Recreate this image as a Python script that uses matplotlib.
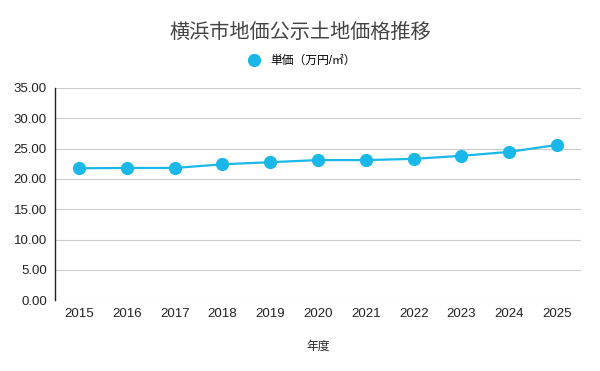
import matplotlib.pyplot as plt

plt.rcParams['font.family'] = ['Liberation Sans', 'Noto Sans CJK JP', 'DejaVu Sans']

years = ['2015', '2016', '2017', '2018', '2019', '2020', '2021', '2022', '2023', '2024', '2025']
unit_price = [21.75, 21.8, 21.8, 22.4, 22.75, 23.1, 23.1, 23.3, 23.8, 24.45, 25.6]
y_ticks = [0, 5, 10, 15, 20, 25, 30, 35]

color = '#1ab8e8'

fig = plt.figure(figsize=(6, 3.71), dpi=100)
ax = fig.add_axes([0.092, 0.191, 0.876, 0.572])

x = list(range(len(years)))
ax.plot(x, unit_price, '-o', color=color, lw=1.6, ms=8.5, label='単価（万円/㎡）')

ax.set_xlim(-0.5, len(years) - 0.5)
ax.set_ylim(0, 35)
ax.set_yticks(y_ticks)
ax.set_yticklabels([f'{v:.2f}' for v in y_ticks])
ax.set_xticks(x)
ax.set_xticklabels(years)
ax.tick_params(length=0, labelsize=9.5, colors='#222222', pad=6)
ax.yaxis.grid(True, color='#cccccc', lw=0.8)
ax.set_axisbelow(True)
for s in ['top', 'right', 'bottom']:
    ax.spines[s].set_visible(False)
ax.spines['left'].set_color('#222222')
ax.spines['left'].set_linewidth(1)

ax.set_xlabel('年度', fontsize=8.5, color='#222222', labelpad=15)
fig.text(0.5, 0.912, '横浜市地価公示土地価格推移', ha='center', va='center',
         fontsize=14.5, color='#444444')
fig.legend(loc='center', bbox_to_anchor=(0.503, 0.835), frameon=False,
           fontsize=8.5, handlelength=1, handletextpad=0.9)
leg = fig.legends[0]
for h in leg.legend_handles:
    h.set_linestyle('none')

fig.savefig('out.png')
